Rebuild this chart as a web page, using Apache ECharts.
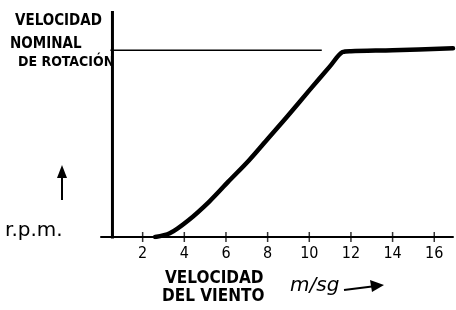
<!DOCTYPE html>
<html><head><meta charset="utf-8">
<script src="https://cdn.jsdelivr.net/npm/echarts@6/dist/echarts.min.js"></script>
<style>html,body{margin:0;padding:0;background:#fff}#c{width:456px;height:310px}</style>
</head><body><div id="c"></div>
<script>
// wind speed (m/s) and rotor speed (% of nominal)
const windSpeed = [2.6, 3.3, 4.2, 5.2, 6.1, 7.1, 8.0, 8.9, 10.0, 11.0, 11.6, 12.0, 14.0, 16.9];
const rpm       = [0,   2,   9,   19,  29.5, 41, 52.5, 64, 78.5, 91.5, 99,  99.5, 100, 101];
const nominalX  = [0.45, 10.6];
const nominalY  = [100, 100];
const tickValues = [2, 4, 6, 8, 10, 12, 14, 16];
const tickLabels = ['2', '4', '6', '8', '10', '12', '14', '16'];
const yTitle = ['VELOCIDAD', 'NOMINAL', 'DE ROTACIÓN'];
const xTitle = ['VELOCIDAD', 'DEL VIENTO'];

const chart = echarts.init(document.getElementById('c'));
const font = "'DejaVu Sans', sans-serif";
const narrow = "'Liberation Sans Narrow', 'DejaVu Sans Condensed', sans-serif";
chart.setOption({
  animation: false,
  grid: {left: 101, right: 0, top: 11, bottom: 73},
  xAxis: {
    type: 'value', min: 0, max: 16.9, interval: 2,
    axisLine: {show: true, lineStyle: {color: '#000', width: 2}},
    axisTick: {show: false},
    splitLine: {show: false},
    axisLabel: {
      color: '#000', fontFamily: narrow, fontSize: 16, margin: 9,
      formatter: v => { const i = tickValues.indexOf(v); return i >= 0 ? tickLabels[i] : ''; }
    }
  },
  yAxis: {
    type: 'value', min: 0, max: 121,
    axisLine: {show: false}, axisTick: {show: false}, axisLabel: {show: false},
    splitLine: {show: false}
  },
  series: [
    {
      type: 'line', data: windSpeed.map((x, i) => [x, rpm[i]]),
      smooth: 0.3, showSymbol: false,
      lineStyle: {color: '#000', width: 4.5, join: 'round', cap: 'round'}
    },
    {
      type: 'line', data: nominalX.map((x, i) => [x, nominalY[i]]),
      showSymbol: false, lineStyle: {color: '#000', width: 1.5}
    },
    {
      type: 'line', data: [[0.55, -3], [0.55, 121]],
      showSymbol: false, lineStyle: {color: '#000', width: 3}
    },
    {
      type: 'scatter', data: tickValues.map(v => [v, 0]),
      symbol: 'rect', symbolSize: [1.5, 10],
      itemStyle: {color: '#000'}
    }
  ],
  graphic: [
    {type: 'text', left: 15, top: 14, style: {text: yTitle[0], font: "bold 15px " + narrow, fill: '#000'}},
    {type: 'text', left: 10, top: 37, style: {text: yTitle[1], font: "bold 15px " + narrow, fill: '#000'}},
    {type: 'text', left: 18, top: 55, style: {text: yTitle[2], font: "bold 14px " + narrow, fill: '#000'}},
    {type: 'text', left: 5, top: 221, style: {text: 'r.p.m.', font: "20px " + font, fill: '#000'}},
    {type: 'line', shape: {x1: 62, y1: 200, x2: 62, y2: 170}, style: {stroke: '#000', lineWidth: 2}},
    {type: 'polygon', shape: {points: [[57, 178], [67, 178], [62, 165]]}, style: {fill: '#000'}},
    {type: 'text', left: 165, top: 270, style: {text: xTitle[0], font: "bold 17px " + narrow, fill: '#000'}},
    {type: 'text', left: 162, top: 288, style: {text: xTitle[1], font: "bold 17px " + narrow, fill: '#000'}},
    {type: 'text', left: 290, top: 276, style: {text: 'm/sg', font: "italic 20px " + font, fill: '#000'}},
    {type: 'line', shape: {x1: 344, y1: 290, x2: 376, y2: 286}, style: {stroke: '#000', lineWidth: 2}},
    {type: 'polygon', shape: {points: [[370, 280], [372, 292], [384, 285]]}, style: {fill: '#000'}}
  ]
});
</script></body></html>
